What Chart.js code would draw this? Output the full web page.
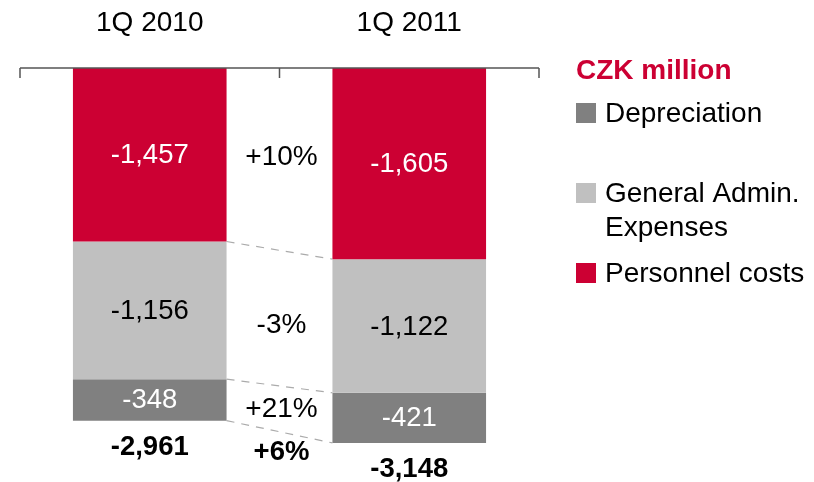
<!DOCTYPE html>
<html>
<head>
<meta charset="utf-8">
<script src="https://cdn.jsdelivr.net/npm/chart.js@4.4.1/dist/chart.umd.min.js"></script>
<style>
  html, body { margin: 0; padding: 0; background: #fff; }
  #wrap { position: relative; width: 814px; height: 482px; }
</style>
</head>
<body>
<div id="wrap"><canvas id="c"></canvas></div>
<script>
const categories = ['1Q 2010', '1Q 2011'];
const personnel = [-1457, -1605];
const generalAdmin = [-1156, -1122];
const depreciation = [-348, -421];
const totals = [-2961, -3148];
const changePersonnel = '+10%';
const changeGeneralAdmin = '-3%';
const changeDepreciation = '+21%';
const changeTotal = '+6%';
const unitTitle = 'CZK million';
const legendItems = [
  { lines: ['Depreciation'], color: '#808080' },
  { lines: ['General Admin.', 'Expenses'], color: '#C0C0C0' },
  { lines: ['Personnel costs'], color: '#CC0033' }
];

const RED = '#CC0033', LIGHT = '#C0C0C0', DARK = '#808080';
const FONT = 'Liberation Sans, Arial, Helvetica, sans-serif';

function fmt(v) { return v.toLocaleString('en-US'); }

const overlay = {
  id: 'overlay',
  beforeDatasetsDraw(chart) {
    const ctx = chart.ctx;
    const y = chart.scales.y;
    const m0 = chart.getDatasetMeta(0).data;
    const stacks = [
      [personnel[0], personnel[1]],
      [personnel[0] + generalAdmin[0], personnel[1] + generalAdmin[1]],
      [personnel[0] + generalAdmin[0] + depreciation[0], personnel[1] + generalAdmin[1] + depreciation[1]]
    ];
    const x1 = m0[0].x + m0[0].width / 2;
    const x2 = m0[1].x - m0[1].width / 2;
    ctx.save();
    ctx.strokeStyle = '#ABABAB';
    ctx.lineWidth = 1.2;
    ctx.setLineDash([8, 7]);
    stacks.forEach(s => {
      ctx.beginPath();
      ctx.moveTo(x1, y.getPixelForValue(s[0]));
      ctx.lineTo(x2, y.getPixelForValue(s[1]));
      ctx.stroke();
    });
    ctx.restore();
  },
  afterDatasetsDraw(chart) {
    const ctx = chart.ctx;
    const ca = chart.chartArea;
    const x = chart.scales.x;
    const y = chart.scales.y;
    const y0 = y.getPixelForValue(0);
    ctx.save();
    ctx.strokeStyle = '#555555';
    ctx.lineWidth = 1.5;
    ctx.beginPath();
    ctx.moveTo(ca.left, y0);
    ctx.lineTo(ca.right, y0);
    const bounds = [ca.left, (x.getPixelForValue(0) + x.getPixelForValue(1)) / 2, ca.right];
    bounds.forEach(bx => { ctx.moveTo(bx, y0); ctx.lineTo(bx, y0 + 10); });
    ctx.stroke();

    ctx.textAlign = 'center';
    ctx.textBaseline = 'middle';
    ctx.fillStyle = '#000';
    ctx.font = '28px ' + FONT;
    categories.forEach((c, i) => ctx.fillText(c, x.getPixelForValue(i), 23));

    const series = [personnel, generalAdmin, depreciation];
    const txtColors = ['#fff', '#000', '#fff'];
    ctx.font = '27.5px ' + FONT;
    series.forEach((s, di) => {
      const meta = chart.getDatasetMeta(di).data;
      s.forEach((v, i) => {
        const b = meta[i];
        ctx.fillStyle = txtColors[di];
        ctx.fillText(fmt(v), b.x, (b.y + b.base) / 2 + 1);
      });
    });

    const mid = (x.getPixelForValue(0) + x.getPixelForValue(1)) / 2 + 2;
    const segMid = (di) => {
      const meta = chart.getDatasetMeta(di).data;
      return ((meta[0].y + meta[0].base) / 2 + (meta[1].y + meta[1].base) / 2) / 2;
    };
    ctx.fillStyle = '#000';
    ctx.font = '28px ' + FONT;
    ctx.fillText(changePersonnel, mid, segMid(0) - 2);
    ctx.fillText(changeGeneralAdmin, mid, segMid(1) + 7);
    ctx.fillText(changeDepreciation, mid, segMid(2));

    ctx.font = 'bold 27.5px ' + FONT;
    totals.forEach((t, i) => {
      ctx.fillText(fmt(t), x.getPixelForValue(i), y.getPixelForValue(t) + 27);
    });
    const avgBottom = (y.getPixelForValue(totals[0]) + y.getPixelForValue(totals[1])) / 2;
    ctx.fillText(changeTotal, mid, avgBottom + 21);

    ctx.textAlign = 'left';
    ctx.fillStyle = RED;
    ctx.font = 'bold 28px ' + FONT;
    ctx.fillText(unitTitle, 576, 71);
    ctx.font = '28px ' + FONT;
    const itemY = [113, 193, 273];
    legendItems.forEach((it, i) => {
      ctx.fillStyle = it.color;
      ctx.fillRect(576, itemY[i] - 10, 20, 20);
      ctx.fillStyle = '#000';
      it.lines.forEach((ln, k) => ctx.fillText(ln, 605, itemY[i] + 1 + k * 34));
    });
    ctx.restore();
  }
};

new Chart(document.getElementById('c'), {
  type: 'bar',
  data: {
    labels: categories,
    datasets: [
      { label: 'Personnel costs', data: personnel, backgroundColor: RED },
      { label: 'General Admin. Expenses', data: generalAdmin, backgroundColor: LIGHT },
      { label: 'Depreciation', data: depreciation, backgroundColor: DARK }
    ]
  },
  options: {
    responsive: true,
    maintainAspectRatio: false,
    animation: false,
    layout: { padding: { top: 68, bottom: 21, left: 20, right: 275 } },
    datasets: { bar: { barPercentage: 1, categoryPercentage: 0.592, borderWidth: 0 } },
    scales: {
      x: { stacked: true, display: false, offset: true },
      y: { stacked: true, display: false, min: -3300, max: 0 }
    },
    plugins: { legend: { display: false }, tooltip: { enabled: false } }
  },
  plugins: [overlay]
});
</script>
</body>
</html>
